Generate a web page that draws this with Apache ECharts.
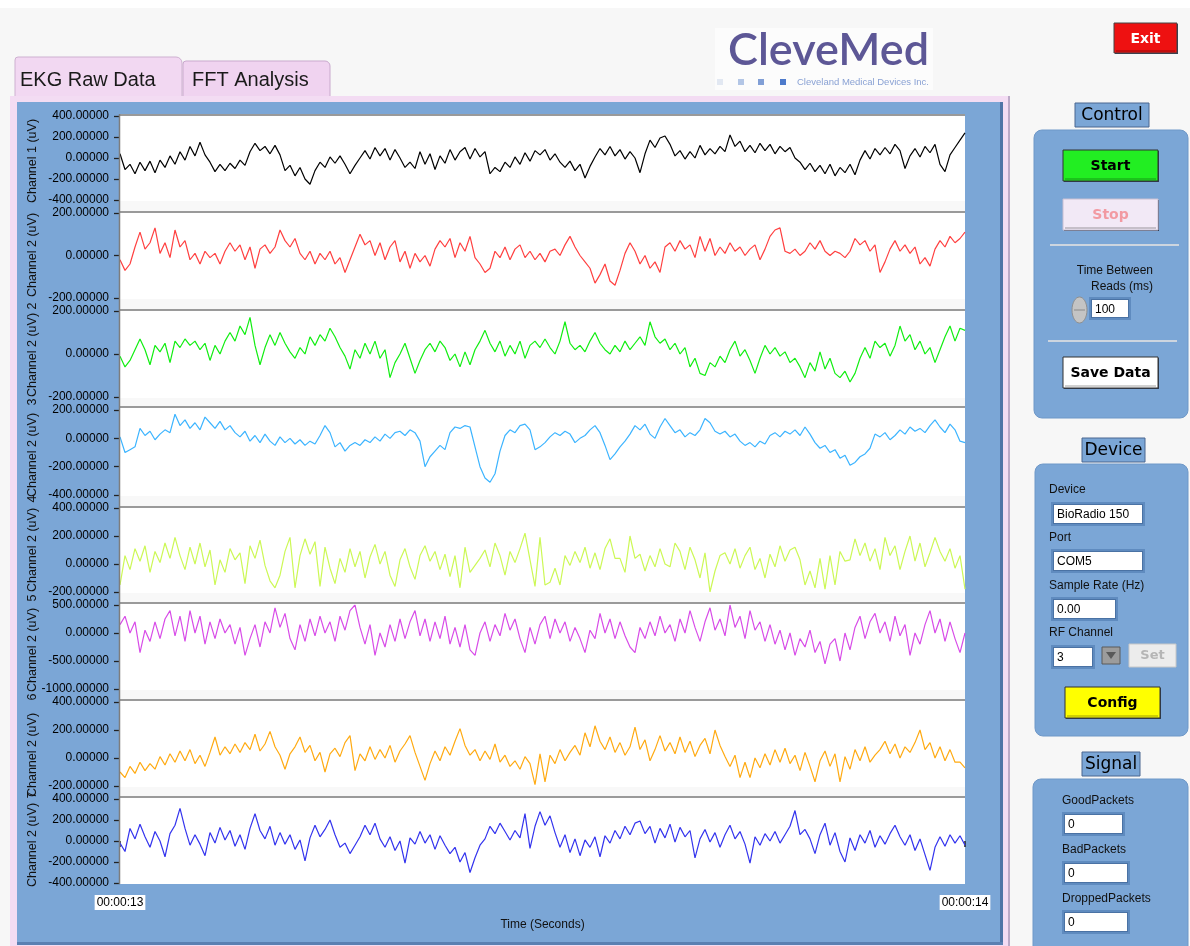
<!DOCTYPE html>
<html>
<head>
<meta charset="utf-8">
<script src="https://cdn.jsdelivr.net/npm/echarts@6/dist/echarts.min.js"></script>
<style>
html,body{margin:0;padding:0;background:#f7f7f7;}
#chart{width:1190px;height:946px;}
</style>
</head>
<body>
<div id="chart"></div>
<script>
// ---------------- DATA ----------------
const timeTicks = [13, 14];
const timeTickLabels = ['00:00:13', '00:00:14'];
const xAxisTitle = 'Time (Seconds)';
const channelTitles = ['Channel 1 (uV)', 'Channel 2 (uV)', 'Channel 2 (uV)', 'Channel 2 (uV)', 'Channel 2 (uV)', 'Channel 2 (uV)', 'Channel 2 (uV)', 'Channel 2 (uV)'];
const channelTags = ['', '2', '3', '4', '5', '6', '7', ''];
const yMins = [-400, -200, -200, -400, -200, -1000, -200, -400];
const yMaxs = [400, 200, 200, 200, 400, 500, 400, 400];
const ySteps = [200, 200, 200, 200, 200, 500, 200, 200];
const channelColors = ['#000000', '#ff4040', '#11ee11', '#3cb4ff', '#ccf855', '#d84ce8', '#ffaa11', '#3333ee'];

const ch1 = [40,-110,-60,-150,-40,-120,-30,-140,-20,-90,
 20,-60,60,-20,110,20,150,30,-40,-130,
 -60,-120,-50,-100,-20,-70,60,140,70,110,
 40,120,30,-120,-70,-170,-90,-200,-250,-120,
 -40,-90,10,-50,20,-60,-150,-70,0,70,
 -10,100,20,90,-20,80,0,-90,-40,-100,
 60,-60,40,-110,20,-50,80,-20,60,100,
 -10,90,10,60,-150,-90,-130,-40,-90,10,
 -60,50,-30,70,30,80,-20,40,-40,-90,
 -30,-120,-60,-190,-80,10,90,30,110,20,
 80,-10,60,0,-140,40,170,100,190,210,
 130,20,70,-10,60,0,120,30,90,40,
 110,60,220,110,160,60,120,50,140,70,
 130,40,110,60,100,0,-40,-110,-50,-130,
 -70,-150,-60,-170,-90,-140,-60,-160,-20,70,
 -10,90,30,100,40,130,70,-100,20,90,
 10,110,50,130,-60,-130,30,100,170,240];

const ch2 = [-20,-70,-40,40,110,30,60,130,10,60,
 -10,120,40,70,-20,10,-40,20,-10,10,
 -40,20,60,20,50,-20,40,-60,30,50,
 10,40,120,70,40,80,10,-20,20,-40,
 10,-20,20,-40,-10,-80,-20,40,100,50,
 70,0,60,-20,40,70,-30,20,-60,10,
 -30,0,-50,30,70,40,80,-10,60,20,
 90,-10,-40,-80,-60,20,-10,40,-20,30,
 50,-10,20,-20,10,-30,20,30,0,50,
 90,40,0,-30,-60,-130,-90,-40,-120,-140,
 -70,10,60,20,-40,0,-60,-30,-80,40,
 60,20,70,30,50,-10,90,20,80,0,
 40,10,60,20,40,0,30,50,-20,30,
 90,120,130,20,10,30,0,20,60,30,
 70,20,0,20,10,-10,20,80,50,70,
 20,50,-80,-30,30,70,20,50,10,40,
 -40,-10,-50,30,70,40,90,60,80,110];

const ch3 = [-10,-60,-30,20,70,20,-50,40,10,50,
 -40,60,30,70,40,60,20,50,-30,40,
 0,60,100,60,130,90,170,40,-50,30,
 90,40,100,50,10,-20,30,0,80,40,
 90,60,120,80,30,-10,-70,20,-20,50,
 0,60,-20,20,-110,-40,0,50,-20,-90,
 -30,20,50,10,60,30,-30,0,-60,10,
 -50,20,60,110,50,10,60,-10,40,0,
 60,-20,40,60,30,70,30,0,60,150,
 50,20,40,10,60,100,50,20,0,40,
 10,60,20,50,80,40,150,80,50,70,
 20,50,0,30,-60,-20,-90,-100,-40,-60,
 -10,-40,20,60,-10,20,-30,-90,-20,40,
 0,30,-10,10,-40,-20,-60,-110,-40,-80,
 10,-70,-20,-90,-110,-80,-130,-90,-20,30,
 -20,60,30,50,-10,40,130,60,90,20,
 60,0,30,-40,20,80,130,60,120,110];

const ch4 = [10,-100,-80,-60,70,20,50,-10,30,60,
 40,170,90,130,70,110,60,150,110,70,
 120,60,90,40,10,50,-20,20,-30,30,
 -20,-50,10,-30,0,-40,-10,-50,-20,-40,
 20,90,40,-60,-30,-90,-50,-30,-50,-10,
 -30,10,-20,30,0,40,50,20,60,40,
 -20,-200,-130,-90,-50,-80,40,80,70,90,
 80,-60,-200,-280,-310,-250,-90,20,60,40,
 90,100,60,-80,-60,-30,10,40,20,50,
 30,-30,0,20,60,90,40,-50,-150,-110,
 -60,-20,30,90,60,100,30,0,80,140,
 90,40,60,10,40,20,60,140,110,50,
 30,50,10,30,-20,-50,-30,-60,-20,-40,
 20,40,10,50,30,60,20,80,30,-30,
 -70,-50,-100,-80,-140,-120,-190,-170,-130,-110,
 -70,30,10,40,-10,20,60,30,80,50,
 70,40,90,130,80,40,100,60,-20,-30];

const ch5 = [-150,60,-40,110,20,130,-60,90,10,150,
 40,190,60,-40,120,0,150,-20,100,-150,
 30,-60,110,30,80,-140,130,40,170,-10,
 -120,-170,-80,90,190,-170,60,180,70,160,
 -160,120,-30,-140,40,-60,110,-20,90,-100,
 50,140,0,90,-80,-160,30,110,-20,-110,
 60,130,20,90,-40,70,-90,60,-170,120,
 -60,-10,40,100,-20,150,60,-80,90,10,
 110,220,30,-160,190,-150,-130,-30,-150,60,
 -10,90,10,120,-30,80,-40,110,180,40,
 40,-60,200,40,70,-50,60,-20,110,0,
 -20,150,90,-40,120,30,-100,80,-200,-50,
 60,80,0,110,-30,60,120,-40,40,-100,
 70,-20,130,20,100,120,30,-150,-50,-170,
 40,-180,60,-150,90,20,30,180,60,150,
 20,110,-40,190,60,130,-40,90,200,20,
 150,-20,80,190,90,20,110,-30,60,-180];

const ch6 = [150,300,0,200,-350,50,-150,200,-100,250,
 400,-50,300,-150,400,0,300,-200,200,-100,
 250,0,150,-200,100,-400,-100,150,-250,200,
 0,450,100,350,-100,-300,150,-150,250,-50,
 300,0,200,-150,300,50,400,500,100,-200,
 150,-400,0,-250,150,-150,250,-100,200,400,
 -50,250,-150,200,-100,300,-200,100,-250,150,
 -300,-400,0,200,-150,150,-50,350,50,250,
 -100,-350,100,-200,150,300,-100,250,0,200,
 -150,100,-100,-350,50,-100,350,0,250,-100,
 200,-50,-250,-350,100,-100,200,-50,300,0,
 150,-150,250,0,400,100,-150,200,450,50,
 250,-50,500,100,300,-100,400,50,200,-150,
 150,-200,50,-300,0,-400,-100,-250,50,-350,
 -150,-550,-200,-100,-500,0,-300,100,300,-100,
 200,350,0,200,-150,300,-50,150,-400,0,
 -200,150,400,0,250,-150,200,-100,-350,0];

const ch7 = [-100,-140,-60,-110,-30,-90,-40,-80,10,-50,
 30,-30,50,-20,60,-40,20,-60,40,150,
 20,80,30,100,40,110,60,170,50,100,
 190,80,20,-80,30,80,150,40,90,-20,
 40,-100,30,70,10,110,160,-90,30,-20,
 80,-10,60,0,90,-30,50,100,160,40,
 -60,-160,-40,50,-20,80,20,120,210,90,
 20,60,-20,50,-10,100,-30,20,-60,-20,
 -80,10,-40,-190,30,-170,20,-40,60,-20,
 40,90,20,180,80,230,120,60,150,40,
 110,20,80,220,60,130,-20,60,160,50,
 110,30,150,40,120,10,90,140,30,200,
 90,10,-60,20,-140,-30,-140,0,-70,30,
 -50,60,-30,70,-40,20,-90,40,-60,-170,
 -20,50,-60,30,-170,10,-80,60,-20,80,
 -30,20,60,120,30,100,0,80,40,110,
 200,60,110,0,80,-20,60,-30,-30,-70];

const ch8 = [-20,-100,120,20,160,40,-60,90,0,-150,
 70,150,310,120,-40,60,-30,-140,80,-20,
 130,10,100,-50,60,-80,120,260,100,20,
 140,-40,80,-30,60,-80,10,-190,30,150,
 40,110,200,60,-60,-20,-120,-40,40,150,
 60,170,20,-60,40,-90,0,-210,30,-30,
 90,-20,60,-80,50,-40,-120,-60,-200,-110,
 -300,-160,-40,20,140,70,170,90,10,100,
 30,260,-70,140,280,150,240,80,-60,60,
 -110,20,-140,10,-60,40,-150,50,-20,100,
 20,140,60,170,190,70,140,-20,120,30,
 160,-10,130,40,100,-160,20,110,-10,80,
 -60,60,150,20,90,-30,-210,40,-40,70,
 0,90,-20,60,140,290,60,110,20,-120,
 60,170,-40,80,-100,-200,30,-90,60,-20,
 100,-60,50,-30,70,150,40,-40,60,-90,
 20,-130,-280,-60,40,-50,60,-20,50,-40];

const channels = [ch1, ch2, ch3, ch4, ch5, ch6, ch7, ch8];

// ---------------- LAYOUT ----------------
const PL = 120, PR = 965;
const plotTops = [116, 213, 311, 410, 508, 605, 702, 799];
const plotBottoms = [200, 298, 397, 495, 592, 689, 786, 883];
const separators = [212, 310, 407, 507, 603, 700, 797];
const titleCenters = [161, 255, 355, 455, 550, 650, 755, 845];
const tagY = [0, 306, 402, 499, 598, 697, 795, 0];

const F = '"Liberation Sans", Arial, sans-serif';
const FD = '"DejaVu Sans", Verdana, sans-serif';

function R(x, y, w, h, fill, o) {
  o = o || {};
  return { type: 'rect', silent: true, z: o.z != null ? o.z : 1,
    shape: { x: x, y: y, width: w, height: h, r: o.r || 0 },
    style: { fill: fill, stroke: o.stroke || null, lineWidth: o.lw || 1 } };
}
function L(x1, y1, x2, y2, color, w, z) {
  return { type: 'line', silent: true, z: z != null ? z : 1,
    shape: { x1: x1, y1: y1, x2: x2, y2: y2 },
    style: { stroke: color, lineWidth: w || 1 } };
}
function T(x, y, text, font, fill, align, valign, rot, z) {
  return { type: 'text', silent: true, z: z != null ? z : 3, x: x, y: y, rotation: rot || 0,
    style: { text: text, font: font, fill: fill, align: align || 'left', verticalAlign: valign || 'middle' } };
}
function button(x, y, w, h, fill, label, color, border) {
  return [
    R(x + 1, y + 1, w, h, '#2f3f58'),
    R(x, y, w, h, fill, { stroke: border || '#333', lw: 1 }),
    L(x + 2, y + h - 2, x + w - 2, y + h - 2, 'rgba(0,0,0,0.18)', 2),
    T(x + w / 2, y + h / 2 + 1, label, 'bold 14px ' + FD, color, 'center', 'middle')
  ];
}
function input(x, y, w, h, text) {
  return [
    R(x - 3, y - 3, w + 6, h + 6, '#5f8bbf'),
    R(x - 1, y - 1, w + 2, h + 2, '#4a72a4'),
    R(x, y, w, h, '#ffffff'),
    T(x + 3, y + h / 2 + 1, text, '12px ' + F, '#000', 'left', 'middle')
  ];
}
function header(x, y, w, h, label) {
  return [
    R(x, y, w, h, '#7ba6d6', { stroke: '#4a6690', lw: 1 }),
    T(x + w / 2, y + h / 2 + 1, label, '17px ' + FD, '#000', 'center', 'middle')
  ];
}

const g = [];
// page
g.push(R(0, 0, 1190, 8, '#ffffff', { z: -20 }));
// tabs
g.push(R(183, 61, 147, 40, '#f0d3f0', { r: [3, 5, 0, 0], stroke: '#c9a9cd', z: -19 }));
g.push(R(15, 57, 167, 46, '#f2d8f2', { r: [3, 6, 0, 0], stroke: '#cdb0d0', z: -18 }));
g.push(T(20, 80, 'EKG Raw Data', '20px ' + F, '#1a1a1a', 'left', 'middle', 0, -5));
g.push(T(192, 80, 'FFT Analysis', '20px ' + F, '#1a1a1a', 'left', 'middle', 0, -5));
// tab frame
g.push(R(10, 96, 1000, 850, '#f3dcf3', { z: -17 }));
g.push(L(1009, 96, 1009, 946, '#a898b8', 1.5, -16));
g.push(R(17, 102, 986, 843, '#7ba6d6', { z: -16 }));
g.push(L(1001.5, 102, 1001.5, 945, '#4f74a6', 3, -15));
g.push(L(17, 943.5, 1003, 943.5, '#5a80b2', 3, -15));
// plot area
g.push(R(PL, 115, PR - PL, 769, '#ffffff', { z: -14 }));
for (let k = 0; k < 8; k++) {
  const bandEnd = k < 7 ? separators[k] : 884;
  g.push(R(PL, plotBottoms[k] + 1, PR - PL, bandEnd - plotBottoms[k] - 1, '#f8f8f8', { z: -13 }));
}
g.push(L(PL, 115, PR, 115, '#9a9a9a', 2, -12));
separators.forEach(function (y) { g.push(L(PL, y, PR, y, '#9a9a9a', 2, -12)); });
g.push(L(119.5, 114, 119.5, 884, '#7d7d7d', 1.5, 5));
// axis titles
for (let k = 0; k < 8; k++) {
  g.push(T(33, titleCenters[k], channelTitles[k], '12.5px ' + F, '#111', 'center', 'middle', Math.PI / 2));
  if (channelTags[k]) g.push(T(33, tagY[k], channelTags[k], '12.5px ' + F, '#111', 'center', 'middle', Math.PI / 2));
}
// logo
g.push(R(715, 28, 218, 62, '#fcfcfc', { z: -19 }));
g.push(T(728, 50, 'CleveMed', '600 45px Lato, ' + F, '#5d5796', 'left', 'middle'));
[['#e2e8f2', 717], ['#b3c6e6', 738], ['#819fd6', 758], ['#4d7acb', 780]].forEach(function (s) {
  g.push(R(s[1], 79, 6, 6, s[0]));
});
g.push(T(797, 82.5, 'Cleveland Medical Devices Inc.', '9.5px ' + F, '#8aa2d4', 'left', 'middle'));
// exit
g.push.apply(g, button(1114, 23, 63, 30, '#ee1111', 'Exit', '#ffffff', '#444'));

// Control panel
g.push.apply(g, header(1075, 103, 74, 24, 'Control'));
g.push(R(1034, 130, 154, 288, '#7ba6d6', { r: 8, stroke: '#6f98c8' }));
g.push.apply(g, button(1063, 150, 95, 31, '#22ee22', 'Start', '#000', '#333'));
g.push.apply(g, button(1063, 199, 95, 31, '#f2e9f6', 'Stop', '#f29aa2', '#c9c0d2'));
g.push(L(1050, 245, 1179, 245, '#cdd5df', 2));
g.push(T(1153, 271, 'Time Between', '12px ' + F, '#111', 'right', 'middle'));
g.push(T(1153, 287, 'Reads (ms)', '12px ' + F, '#111', 'right', 'middle'));
g.push({ type: 'ellipse', silent: true, z: 2, shape: { cx: 1079.5, cy: 310, rx: 7.5, ry: 13 },
  style: { fill: '#c4c4c4', stroke: '#8f8f8f', lineWidth: 1 } });
g.push(L(1074, 310, 1085, 310, '#8a8a8a', 1, 3));
g.push.apply(g, input(1092, 300, 36, 17, '100'));
g.push(L(1048, 341, 1177, 341, '#cdd5df', 2));
g.push.apply(g, button(1063, 357, 95, 31, '#ffffff', 'Save Data', '#000', '#333'));

// Device panel
g.push.apply(g, header(1082, 438, 63, 24, 'Device'));
g.push(R(1035, 464, 153, 272, '#7ba6d6', { r: 8, stroke: '#6f98c8' }));
g.push(T(1049, 490, 'Device', '12px ' + F, '#111', 'left', 'middle'));
g.push.apply(g, input(1054, 505, 88, 18, 'BioRadio 150'));
g.push(T(1049, 538, 'Port', '12px ' + F, '#111', 'left', 'middle'));
g.push.apply(g, input(1054, 552, 88, 18, 'COM5'));
g.push(T(1049, 586, 'Sample Rate (Hz)', '12px ' + F, '#111', 'left', 'middle'));
g.push.apply(g, input(1054, 600, 61, 18, '0.00'));
g.push(T(1049, 633, 'RF Channel', '12px ' + F, '#111', 'left', 'middle'));
g.push.apply(g, input(1054, 648, 38, 18, '3'));
g.push(R(1102, 647, 18, 17, '#9c9c9c', { stroke: '#5a5a5a' }));
g.push({ type: 'polygon', silent: true, z: 3, shape: { points: [[1106, 652], [1116, 652], [1111, 659]] }, style: { fill: '#5a5a5a' } });
g.push(R(1129, 644, 47, 23, '#ececec', { stroke: '#c8c8c8' }));
g.push(T(1152.5, 656, 'Set', 'bold 13px ' + FD, '#b5b5b5', 'center', 'middle'));
g.push.apply(g, button(1065, 687, 95, 31, '#ffff00', 'Config', '#000', '#333'));

// Signal panel
g.push.apply(g, header(1082, 752, 58, 24, 'Signal'));
g.push(R(1033, 779, 155, 180, '#7ba6d6', { r: 8, stroke: '#6f98c8' }));
g.push(T(1062, 801, 'GoodPackets', '12px ' + F, '#111', 'left', 'middle'));
g.push.apply(g, input(1065, 815, 57, 18, '0'));
g.push(T(1062, 850, 'BadPackets', '12px ' + F, '#111', 'left', 'middle'));
g.push.apply(g, input(1065, 864, 62, 18, '0'));
g.push(T(1062, 899, 'DroppedPackets', '12px ' + F, '#111', 'left', 'middle'));
g.push.apply(g, input(1065, 913, 62, 18, '0'));

// ---------------- CHART ----------------
const grids = [], xAxes = [], yAxes = [], series = [];
for (let k = 0; k < 8; k++) {
  const last = k === 7;
  grids.push({ left: PL, width: PR - PL, top: plotTops[k], height: plotBottoms[k] - plotTops[k], containLabel: false });
  xAxes.push({
    type: 'value', gridIndex: k, min: timeTicks[0], max: timeTicks[1], interval: timeTicks[1] - timeTicks[0],
    axisLine: { show: false }, splitLine: { show: false },
    axisTick: { show: last, length: 6, lineStyle: { color: '#222', width: 1.5 } },
    axisLabel: { show: last, margin: 12, fontFamily: F, fontSize: 12, color: '#000', backgroundColor: '#ffffff', padding: [2, 2, 1, 2],
      formatter: function (v) { const i = timeTicks.indexOf(v); return i >= 0 ? timeTickLabels[i] : ''; } },
    name: last ? xAxisTitle : '', nameLocation: 'middle', nameGap: 36,
    nameTextStyle: { fontFamily: F, fontSize: 12, color: '#111' }
  });
  yAxes.push({
    type: 'value', gridIndex: k, min: yMins[k], max: yMaxs[k], interval: ySteps[k],
    axisLine: { show: false }, splitLine: { show: false },
    axisTick: { show: true, length: 6, lineStyle: { color: '#222', width: 1.3 } },
    axisLabel: { margin: 11, fontFamily: F, fontSize: 12, color: '#000', showMinLabel: true, showMaxLabel: true,
      formatter: function (v) { return v.toFixed(5); } }
  });
  const arr = channels[k];
  const step = (timeTicks[1] - timeTicks[0]) / (arr.length - 1);
  series.push({
    type: 'line', xAxisIndex: k, yAxisIndex: k, showSymbol: false, symbol: 'none',
    data: arr.map(function (v, i) { return [timeTicks[0] + i * step, v]; }),
    lineStyle: { color: channelColors[k], width: 1.2 }, itemStyle: { color: channelColors[k] },
    animation: false, z: 4
  });
}

const chart = echarts.init(document.getElementById('chart'), null, { renderer: 'canvas' });
chart.setOption({
  backgroundColor: '#f7f7f7',
  animation: false,
  grid: grids, xAxis: xAxes, yAxis: yAxes, series: series,
  graphic: { elements: g }
});
</script>
</body>
</html>
